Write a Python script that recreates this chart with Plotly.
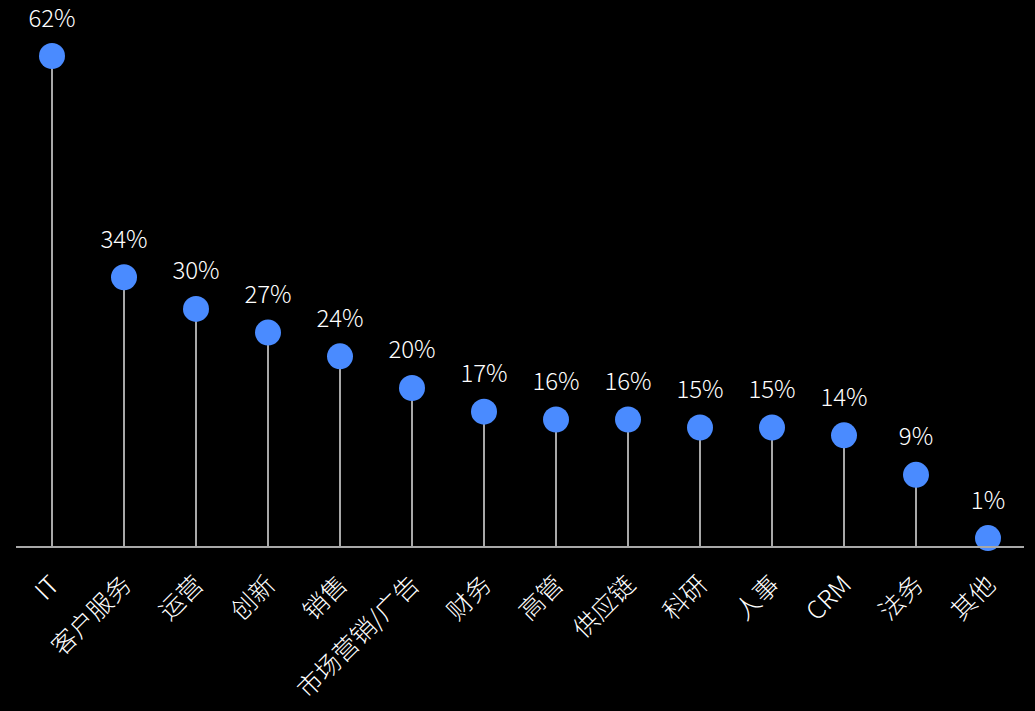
import plotly.graph_objects as go

# Share of respondents by function
categories = ["IT", "客户服务", "运营", "创新", "销售", "市场营销/广告", "财务",
              "高管", "供应链", "科研", "人事", "CRM", "法务", "其他"]
values = [62, 34, 30, 27, 24, 20, 17, 16, 16, 15, 15, 14, 9, 1]
value_labels = [f"{v}%" for v in values]

FONT = "Noto Sans CJK SC, Noto Sans, sans-serif"
STEM = "#a8a8a8"
DOT = "#4a8bff"

fig = go.Figure()

# Stems
fig.add_trace(go.Bar(
    x=categories, y=values, width=0.028,
    marker=dict(color=STEM, line=dict(width=0)),
    hoverinfo="skip", showlegend=False,
))

# Heads
fig.add_trace(go.Scatter(
    x=categories, y=values, mode="markers",
    marker=dict(size=26, color=DOT),
    cliponaxis=False, showlegend=False,
))

# Value labels, offset by a transparent larger marker
fig.add_trace(go.Scatter(
    x=categories, y=values, mode="markers+text",
    marker=dict(size=36, color="rgba(0,0,0,0)"),
    text=value_labels, textposition="top center",
    textfont=dict(family=FONT, size=24, color="white", weight=300),
    cliponaxis=False, showlegend=False, hoverinfo="skip",
))

fig.update_layout(
    width=1035, height=711,
    paper_bgcolor="black", plot_bgcolor="black",
    margin=dict(l=16, r=11, t=56, b=165, autoexpand=False),
    font=dict(family=FONT, color="white"),
    bargap=0,
    xaxis=dict(
        type="category", showgrid=False, zeroline=False, automargin=False,
        range=[-0.5, len(categories) - 0.5],
        showline=True, linecolor=STEM, linewidth=2,
        tickangle=-45, ticks="", ticklabelstandoff=12,
        tickfont=dict(size=25, color="white", family=FONT, weight=300),
    ),
    yaxis=dict(range=[0, 62], visible=False, showgrid=False, zeroline=False,
               automargin=False),
)

fig.write_html("out.html")
